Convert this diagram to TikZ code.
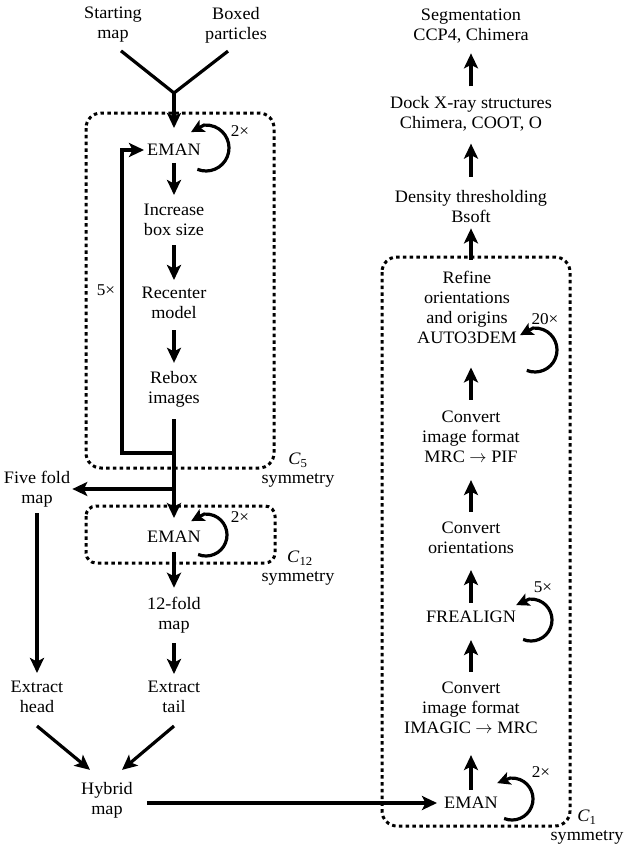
\documentclass[tikz,border=0pt]{standalone}
\usepackage{fontspec}
\setmainfont{Liberation Serif}[FakeStretch=1.04]
\usetikzlibrary{arrows.meta,calc}
\begin{document}
\begin{tikzpicture}[x=1pt,y=-1pt,
  txt/.style={align=center, inner sep=0pt, font=\fontsize{17.5}{20}\selectfont},
  mult/.style={inner sep=0pt, font=\fontsize{16.5}{18}\selectfont},
  ln/.style={line width=3.2pt},
  arr/.style={ln, -{Stealth[length=15pt,width=14pt,inset=3.5pt]}},
  lp/.style={line width=3.2pt, -{Stealth[length=13pt,width=13pt,inset=3pt]}},
  dotbox/.style={line width=3pt, dash pattern=on 3.5pt off 3.3pt, rounded corners=15pt}]
\fill[white] (0,0) rectangle (628,851);
\useasboundingbox (0,0) rectangle (628,851);

% left column
\node[txt] (sm) at (113,25) {Starting\\map};
\node[txt] (bp) at (236,25) {Boxed\\particles};
\node[txt] (eman1) at (174,150) {EMAN};
\node[txt] (inc) at (174,220) {Increase\\box size};
\node[txt] (rec) at (174,303) {Recenter\\model};
\node[txt] (reb) at (174,389) {Rebox\\images};
\node[txt] (five) at (37,489) {Five fold\\map};
\node[txt] (eman2) at (174,537) {EMAN};
\node[txt] (twelve) at (174,615) {12-fold\\map};
\node[txt] (head) at (37,697) {Extract\\head};
\node[txt] (tail) at (174,697) {Extract\\tail};
\node[txt] (hyb) at (107,800) {Hybrid\\map};

% right column
\node[txt] (seg) at (471,26) {Segmentation\\CCP4, Chimera};
\node[txt] (dock) at (471,114) {Dock X-ray structures\\Chimera, COOT, O};
\node[txt] (dens) at (471,207) {Density thresholding\\Bsoft};
\node[txt] (refine) at (467,307) {Refine\\orientations\\and origins\\AUTO3DEM};
\node[txt] (mrcpif) at (471,437) {Convert\\image format\\MRC $\rightarrow$ PIF};
\node[txt] (corient) at (471,538) {Convert\\orientations};
\node[txt] (frealign) at (471,617) {FREALIGN};
\node[txt] (imagic) at (471,708) {Convert\\image format\\IMAGIC $\rightarrow$ MRC};
\node[txt] (eman3) at (471,803) {EMAN};

% multipliers
\node[mult] (m1) at (240,131) {2×};
\node[mult] (m2) at (240,517) {2×};
\node[mult] (m3) at (106,290) {5×};
\node[mult] (m4) at (545,319) {20×};
\node[mult] (m5) at (543,587) {5×};
\node[mult] (m6) at (541,772) {2×};

% symmetry labels
\node[txt] (c5) at (298,460) {\textit{C}\textsubscript{5}};
\node[txt] (s5) at (298,480) {symmetry};
\node[txt] (c12) at (300,558) {\textit{C}\textsubscript{12}};
\node[txt] (s12) at (298,578) {symmetry};
\node[txt] (c1) at (587,817) {\textit{C}\textsubscript{1}};
\node[txt] (s1) at (587,837) {symmetry};

% dotted boxes
\draw[dotbox] (86,113) rectangle (274,468);
\draw[dotbox, rounded corners=10pt] (86,506) rectangle (275,563);
\draw[dotbox] (382,257) rectangle (570,826);

% top junction
\coordinate (j) at (174,93);
\draw[ln] ([xshift=8pt,yshift=-8pt]sm.south) -- (j) -- ([xshift=-8pt,yshift=-8pt]bp.south);
\draw[arr, shorten >=16pt] (j) -- (eman1.north);

% left chain
\draw[arr, shorten <=7pt, shorten >=9pt] (eman1.south) -- (inc.north);
\draw[arr, shorten <=9pt, shorten >=7pt] (inc.south) -- (rec.north);
\draw[arr, shorten <=11pt, shorten >=8pt] (rec.south) -- (reb.north);
\draw[arr, shorten <=12pt, shorten >=13pt] (reb.south) -- (eman2.north);
\coordinate (r1) at (174,453);
\coordinate (r2) at (122,453);
\draw[arr, shorten >=3pt] (r1) -- (r2) |- (eman1.west);
\coordinate (b5) at (174,489);
\draw[arr, shorten >=2pt] (b5) -- (b5 -| five.east);
\draw[arr, shorten <=9pt, shorten >=9pt] (eman2.south) -- (twelve.north);
\draw[arr, shorten <=10pt, shorten >=7pt] (twelve.south) -- (tail.north);
\draw[arr, shorten <=6pt, shorten >=8pt] (five.south) -- (head.north);
\draw[arr] ([yshift=-13pt]head.south) -- ([xshift=-17pt,yshift=12pt]hyb.north);
\draw[arr] ([yshift=-13pt]tail.south) -- ([xshift=15pt,yshift=12pt]hyb.north);
\draw[arr, shorten <=14pt, shorten >=7pt] (hyb.east |- eman3.west) -- (eman3.west);

% right chain
\draw[arr, shorten <=7pt, shorten >=21pt] (eman3.north) -- (imagic.south);
\draw[arr, shorten <=10pt, shorten >=17pt] (imagic.north) -- (frealign.south);
\draw[arr, shorten <=8pt, shorten >=16pt] (frealign.north) -- (corient.south);
\draw[arr, shorten <=10pt, shorten >=17pt] (corient.north) -- (mrcpif.south);
\draw[arr, shorten <=11pt, shorten >=24pt] (mrcpif.north) -- (mrcpif.north |- refine.south);
\draw[arr, shorten <=11pt, shorten >=5pt] (dens.south |- refine.north) -- (dens.south);
\draw[arr, shorten <=14pt, shorten >=12pt] (dens.north) -- (dock.south);
\draw[arr, shorten <=10pt, shorten >=10pt] (dock.north) -- (seg.south);

% loops
\coordinate (lc1) at (206,148);
\coordinate (lc2) at (206,535);
\coordinate (lc3) at (535,350);
\coordinate (lc4) at (531,620);
\coordinate (lc5) at (512,799);
\draw[lp] (lc1) ++(112:23) arc[start angle=112,end angle=-95,radius=23] -- ++(-13,7);
\draw[lp] (lc2) ++(112:21) arc[start angle=112,end angle=-95,radius=21] -- ++(-13,7);
\draw[lp] (lc3) ++(112:22) arc[start angle=112,end angle=-95,radius=22] -- ++(-13,7);
\draw[lp] (lc4) ++(112:21) arc[start angle=112,end angle=-95,radius=21] -- ++(-13,6);
\draw[lp] (lc5) ++(112:21) arc[start angle=112,end angle=-95,radius=21] -- ++(-13,5);
\end{tikzpicture}
\end{document}
